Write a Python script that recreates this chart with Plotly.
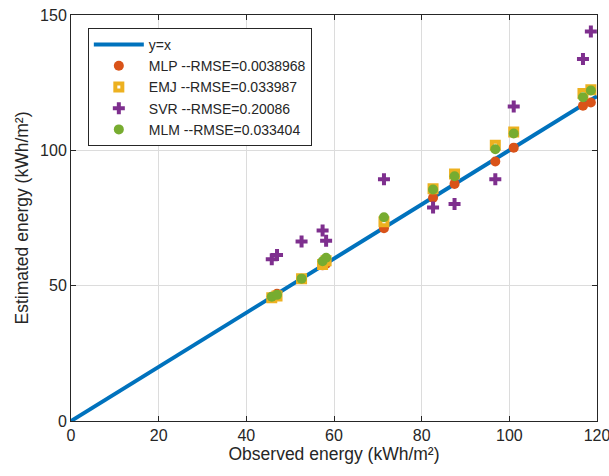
import plotly.graph_objects as go

# Observed vs. estimated energy for each model (kWh/m²)
observed = [45.8, 47.0, 52.6, 57.4, 58.2, 71.4, 82.6, 87.5, 96.8, 101.0, 116.8, 118.6]
mlp_est = [45.9, 47.0, 52.5, 57.5, 58.1, 71.2, 82.5, 87.6, 95.9, 101.0, 116.5, 117.7]
emj_est = [45.5, 46.2, 52.6, 57.8, 59.2, 73.6, 85.8, 91.3, 101.9, 106.8, 121.0, 122.4]
svr_est = [59.8, 61.3, 66.3, 70.4, 66.6, 89.3, 78.9, 80.2, 89.3, 116.2, 133.7, 143.9]
mlm_est = [45.9, 46.6, 52.6, 59.0, 60.3, 75.3, 85.5, 90.4, 100.4, 106.2, 119.6, 122.1]

ref_x = [0, 120]
ref_y = [0, 120]

x_ticks = [0, 20, 40, 60, 80, 100, 120]
y_ticks = [0, 50, 100, 150]

AX = "#262626"

fig = go.Figure()
fig.add_trace(go.Scatter(x=ref_x, y=ref_y, mode="lines", name="y=x",
                         line=dict(color="#0072BD", width=4)))
fig.add_trace(go.Scatter(x=observed, y=mlp_est, mode="markers",
                         name="MLP --RMSE=0.0038968",
                         marker=dict(symbol="circle", size=10, color="#D95319")))
fig.add_trace(go.Scatter(x=observed, y=emj_est, mode="markers",
                         name="EMJ --RMSE=0.033987",
                         marker=dict(symbol="square", size=7, color="white",
                                     line=dict(color="#EDB120", width=4))))
fig.add_trace(go.Scatter(x=observed, y=svr_est, mode="markers",
                         name="SVR --RMSE=0.20086",
                         marker=dict(symbol="cross", size=10, color="#7E2F8E")))
fig.add_trace(go.Scatter(x=observed, y=mlm_est, mode="markers",
                         name="MLM --RMSE=0.033404",
                         marker=dict(symbol="circle", size=10, color="#77AC30")))

axis_common = dict(showline=True, linecolor=AX, linewidth=1, mirror="ticks",
                   ticks="inside", ticklen=5, tickcolor=AX,
                   showgrid=True, gridcolor="#dcdcdc", gridwidth=1,
                   zeroline=False, automargin=False, ticklabeloverflow="allow",
                   tickfont=dict(size=16, color=AX))

fig.update_layout(
    width=609, height=476,
    margin=dict(l=71, r=12, t=15, b=55),
    paper_bgcolor="white", plot_bgcolor="white",
    font=dict(family="Liberation Sans, Arial, sans-serif", color=AX, size=14),
    xaxis=dict(range=[0, 120], tickvals=x_ticks,
               title=dict(text="Observed energy (kWh/m²)", font=dict(size=17.5), standoff=4),
               **axis_common),
    yaxis=dict(range=[0, 150], tickvals=y_ticks,
               title=dict(text="Estimated energy (kWh/m²)", font=dict(size=17.5), standoff=6),
               **axis_common),
    legend=dict(x=0.032, y=0.968, xanchor="left", yanchor="top",
                bgcolor="white", bordercolor=AX, borderwidth=1,
                font=dict(size=14, color=AX), tracegroupgap=0,
                itemwidth=50, entrywidth=218, entrywidthmode="pixels"),
    showlegend=True,
)

fig.write_html("out.html")
